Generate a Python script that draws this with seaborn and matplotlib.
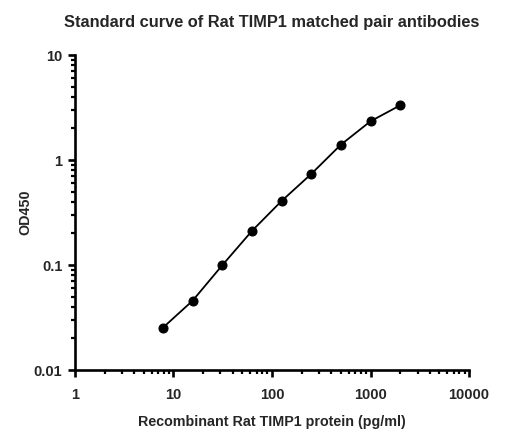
import numpy as np
import pandas as pd
import seaborn as sns
import matplotlib.pyplot as plt
from matplotlib.ticker import LogLocator, FixedLocator, FixedFormatter, NullFormatter

# Standard curve data
conc = [7.8125, 15.625, 31.25, 62.5, 125, 250, 500, 1000, 2000]
od450 = [0.0253, 0.0457, 0.0994, 0.211, 0.407, 0.736, 1.40, 2.34, 3.32]

x_ticks = [1, 10, 100, 1000, 10000]
x_labels = ['1', '10', '100', '1000', '10000']
y_ticks = [0.01, 0.1, 1, 10]
y_labels = ['0.01', '0.1', '1', '10']

df = pd.DataFrame({'conc': conc, 'od450': od450})

sns.set_theme(style='ticks')
plt.rcParams['font.family'] = ['Liberation Sans', 'DejaVu Sans']

fig = plt.figure(figsize=(5.15, 4.37), dpi=100)
ax = fig.add_axes([0.1456, 0.1533, 0.7651, 0.7207])

sns.lineplot(data=df, x='conc', y='od450', ax=ax, color='black', linewidth=1.3,
             marker='o', markersize=6.5, markeredgecolor='black', markerfacecolor='black')

ax.set_xscale('log')
ax.set_yscale('log')
ax.set_xlim(1, 10000)
ax.set_ylim(0.01, 10)

ax.xaxis.set_major_locator(FixedLocator(x_ticks))
ax.xaxis.set_major_formatter(FixedFormatter(x_labels))
ax.yaxis.set_major_locator(FixedLocator(y_ticks))
ax.yaxis.set_major_formatter(FixedFormatter(y_labels))
ax.xaxis.set_minor_locator(LogLocator(base=10, subs=np.arange(2, 10), numticks=20))
ax.yaxis.set_minor_locator(LogLocator(base=10, subs=np.arange(2, 10), numticks=20))
ax.xaxis.set_minor_formatter(NullFormatter())
ax.yaxis.set_minor_formatter(NullFormatter())

for side in ['top', 'right']:
    ax.spines[side].set_visible(False)
for side in ['left', 'bottom']:
    ax.spines[side].set_linewidth(1.9)
    ax.spines[side].set_color('black')

ax.tick_params(which='major', length=5, width=1.9, color='black', direction='out',
               labelsize=10.5, pad=4)
ax.tick_params(axis='x', which='major', pad=8)
ax.tick_params(which='minor', length=3, width=1.6, color='black', direction='out')
for lab in ax.get_xticklabels() + ax.get_yticklabels():
    lab.set_fontweight('bold')

ax.set_xlabel('Recombinant Rat TIMP1 protein (pg/ml)', fontsize=10.3, fontweight='bold', labelpad=9)
ax.set_ylabel('OD450', fontsize=10.3, fontweight='bold', labelpad=1)
ax.set_title('Standard curve of Rat TIMP1 matched pair antibodies', fontsize=11.8,
             fontweight='bold', pad=20)

fig.savefig('out.png', dpi=100)
